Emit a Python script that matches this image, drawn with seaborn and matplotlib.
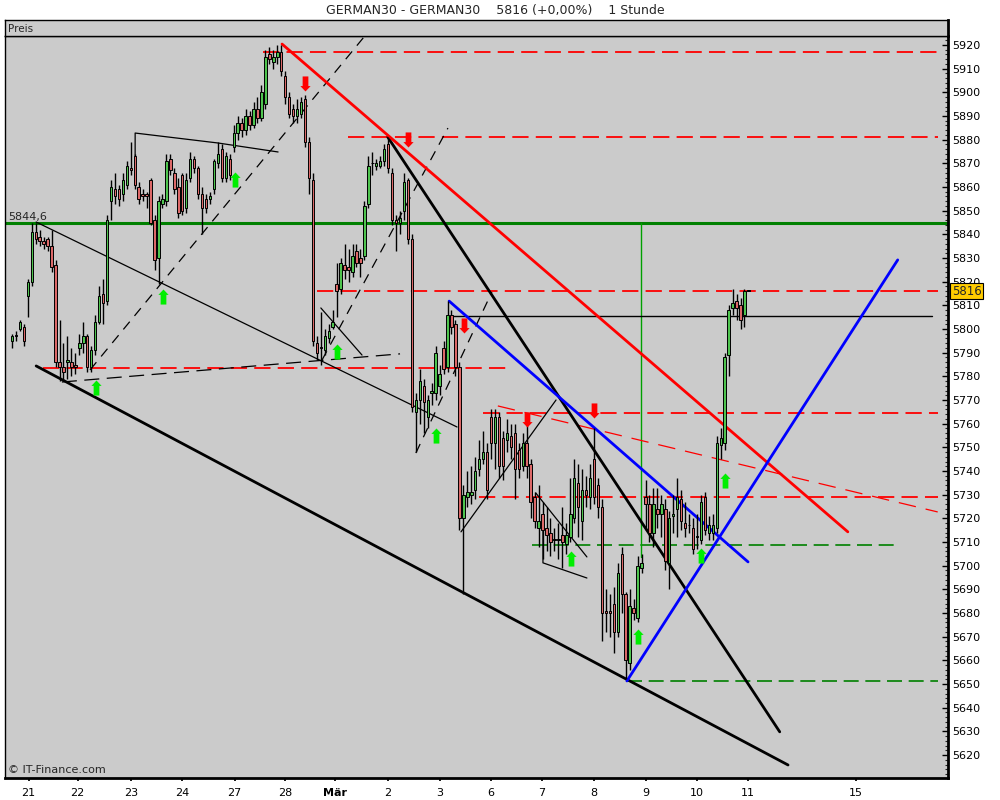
import matplotlib
matplotlib.use("Agg")
import matplotlib.pyplot as plt
from matplotlib.path import Path
import seaborn as sns

# GERMAN30, 1 Stunde (hourly candles)
opens = [5795,5797,5800,5801,5814,5820,5841,5839,5837,5838,
         5835,5827,5786,5784,5786,5786,5785,5792,5794,5797,
         5784,5791,5803,5815,5812,5854,5859,5859,5857,5861,
         5868,5873,5860,5857,5857,5863,5846,5830,5853,5854,
         5872,5866,5860,5865,5851,5864,5872,5868,5857,5855,
         5855,5859,5870,5876,5864,5872,5877,5883,5887,5884,
         5890,5886,5893,5889,5895,5916,5913,5915,5917,5907,
         5898,5893,5890,5891,5897,5879,5863,5794,5792,5791,
         5796,5801,5819,5817,5827,5826,5824,5833,5830,5831,
         5853,5870,5869,5869,5871,5878,5866,5846,5845,5850,
         5863,5838,5765,5770,5776,5763,5773,5773,5776,5792,
         5784,5806,5802,5784,5720,5729,5730,5732,5741,5745,
         5748,5763,5752,5763,5754,5753,5755,5756,5749,5742,
         5752,5743,5729,5716,5722,5716,5714,5711,5711,5713,
         5709,5712,5720,5735,5719,5732,5729,5745,5734,5725,
         5681,5681,5684,5672,5705,5688,5659,5682,5678,5699,
         5729,5726,5714,5724,5722,5724,5701,5721,5724,5728,
         5718,5717,5716,5712,5711,5729,5714,5714,5716,5751,
         5752,5789,5809,5812,5810,5806,5816]
highs = [5798,5799,5804,5802,5821,5845,5845,5842,5839,5839,
         5842,5829,5804,5794,5797,5792,5790,5798,5803,5798,
         5793,5806,5818,5821,5848,5863,5866,5861,5866,5871,
         5879,5874,5862,5859,5858,5864,5848,5856,5857,5874,
         5874,5868,5864,5866,5866,5875,5873,5869,5860,5857,
         5858,5872,5879,5878,5875,5874,5886,5890,5889,5893,
         5892,5896,5898,5903,5918,5919,5918,5920,5920,5909,
         5900,5895,5897,5898,5899,5881,5866,5797,5807,5800,
         5802,5808,5828,5830,5836,5834,5836,5836,5834,5854,
         5873,5875,5872,5873,5878,5881,5868,5848,5850,5866,
         5864,5840,5773,5783,5779,5772,5777,5793,5785,5795,
         5812,5808,5804,5786,5734,5740,5742,5746,5753,5757,
         5752,5766,5766,5765,5757,5762,5760,5760,5752,5756,
         5760,5745,5731,5734,5727,5725,5720,5716,5718,5725,
         5718,5737,5745,5743,5741,5738,5743,5758,5737,5728,
         5690,5688,5691,5701,5708,5689,5690,5686,5704,5705,
         5736,5730,5733,5733,5730,5728,5723,5730,5737,5732,
         5727,5722,5720,5722,5730,5731,5721,5722,5755,5758,
         5790,5810,5817,5815,5813,5817,5816]
lows = [5792,5795,5799,5793,5805,5818,5836,5835,5834,5833,
        5824,5784,5778,5778,5779,5780,5781,5789,5790,5782,
        5782,5789,5802,5802,5810,5846,5853,5852,5854,5859,
        5865,5859,5853,5854,5851,5844,5825,5819,5851,5852,
        5865,5857,5847,5848,5849,5862,5866,5855,5840,5849,
        5853,5857,5868,5862,5862,5863,5875,5880,5881,5882,
        5884,5885,5887,5888,5893,5912,5910,5912,5907,5895,
        5889,5887,5887,5889,5877,5857,5793,5787,5785,5789,
        5794,5800,5805,5815,5821,5820,5822,5826,5822,5829,
        5851,5865,5867,5868,5869,5866,5844,5833,5840,5846,
        5836,5765,5748,5760,5756,5758,5768,5770,5772,5781,
        5782,5798,5780,5715,5688,5725,5726,5728,5738,5743,
        5728,5745,5741,5737,5736,5748,5745,5728,5737,5740,
        5737,5720,5716,5708,5703,5706,5704,5706,5703,5699,
        5705,5710,5718,5712,5711,5725,5724,5726,5720,5668,
        5672,5670,5663,5670,5680,5652,5656,5677,5676,5697,
        5715,5710,5708,5716,5712,5698,5690,5714,5712,5715,
        5712,5714,5705,5707,5709,5713,5711,5711,5714,5745,
        5749,5780,5806,5804,5800,5801,5816]
closes = [5797,5797,5803,5795,5820,5841,5838,5837,5836,5835,
          5826,5786,5784,5782,5787,5784,5784,5794,5797,5784,
          5791,5803,5814,5811,5846,5860,5856,5855,5863,5869,
          5867,5861,5855,5856,5856,5845,5829,5854,5855,5871,
          5867,5859,5849,5850,5863,5872,5868,5857,5851,5851,
          5856,5871,5874,5864,5873,5865,5883,5887,5884,5890,
          5886,5893,5889,5900,5915,5914,5915,5917,5909,5898,
          5891,5890,5893,5896,5879,5864,5795,5790,5792,5797,
          5799,5803,5816,5828,5825,5825,5831,5828,5828,5852,
          5869,5870,5870,5871,5876,5868,5846,5845,5847,5862,
          5838,5767,5770,5778,5769,5770,5774,5790,5781,5783,
          5806,5801,5784,5720,5730,5731,5731,5740,5745,5748,
          5732,5752,5763,5742,5742,5756,5750,5741,5741,5752,
          5742,5727,5719,5719,5715,5713,5710,5711,5711,5710,
          5713,5722,5737,5725,5732,5730,5737,5729,5725,5680,
          5680,5680,5672,5697,5688,5660,5683,5680,5700,5701,
          5726,5714,5726,5722,5726,5702,5720,5722,5729,5719,
          5716,5717,5707,5712,5727,5715,5717,5717,5752,5754,
          5788,5808,5811,5809,5804,5816,5816]

day_labels = ["21", "22", "23", "24", "27", "28", "Mär", "2", "3", "6", "7",
              "8", "9", "10", "11", "15"]
day_pos = [4.2, 16.6, 30.0, 42.9, 56.2, 69.0, 81.5, 94.9, 108.1, 121.0,
           133.8, 147.0, 160.1, 173.0, 185.9, 213.1]

last_price = 5816
mark_5844 = 5844.6

# drawn lines, (candle index, price) points
red_trend = [(68.2, 5920.4), (211.1, 5714.3)]
red_trend_thin = [(122.7, 5767.5), (233.8, 5722.7)]
black_support = [(6.1, 5784.4), (196.0, 5615.8)]
black_down = [(94.9, 5881.1), (193.9, 5629.8)]
blue_down = [(110.4, 5811.8), (185.9, 5701.6)]
blue_up = [(155.3, 5651.3), (223.7, 5829.2)]
thin_down = [(6.1, 5845.2), (112.4, 5758.6)]
thin_top = [(31.1, 5872.7), (31.1, 5882.8), (52.0, 5878.6), (67.2, 5874.8)]
thin_flag1 = [(78.0, 5808.9), (88.4, 5789.0)]
thin_flag2 = [(132.3, 5730.7), (145.2, 5703.7)]
thin_flag2_base = [(134.1, 5718.0), (134.1, 5701.2), (145.2, 5694.8)]
thin_up = [(113.4, 5714.3), (137.4, 5770.0)]
line_5805 = [(110.6, 5805.5), (232.3, 5805.5)]
green_vert = [(158.8, 5844.6), (158.8, 5703.7)]
dash_a = [(19.7, 5782.7), (89.1, 5923.8)]
dash_b = [(78.3, 5786.9), (110.1, 5884.9)]
dash_c = [(102.0, 5747.6), (121.2, 5815.6)]
dash_flat = [(12.6, 5777.6), (98.0, 5789.5)]

red_levels = [5917, 5881, 5816.2, 5783.4, 5764.5, 5729.2]
red_level_from = [63.4, 84.8, 77.0, 7.8, 118.9, 117.9]
red_level_to = [233.8, 233.8, 233.8, 125.3, 233.8, 233.8]
green_levels = [5708.8, 5651.3]
green_level_from = [131.3, 155.3]
green_level_to = [224.2, 233.8]

# signal arrows (tip positions)
sell_x = [74.0, 100.0, 114.1, 130.1, 147.0]
sell_y = [5900.6, 5876.9, 5798.3, 5758.6, 5762.4]
buy_x = [21.2, 38.1, 56.3, 82.1, 107.1, 141.2, 158.1, 174.0, 180.1]
buy_y = [5778.5, 5816.9, 5866.3, 5793.7, 5758.2, 5706.2, 5673.3, 5707.5, 5739.2]

sns.set_theme(style="white", rc={"axes.facecolor": "#cbcbcb"})
plt.rcParams["font.family"] = ["DejaVu Sans"]

fig = plt.figure(figsize=(10, 8), dpi=100, facecolor="white")
ax = fig.add_axes([0.005, 0.0275, 0.943, 0.9275])
ax.set_facecolor("#cbcbcb")

def draw(points, color, lw, ls="-"):
    xs = [p[0] for p in points]
    ys = [p[1] for p in points]
    sns.lineplot(x=xs, y=ys, ax=ax, color=color, linewidth=lw, linestyle=ls,
                 estimator=None, sort=False, legend=False, zorder=4)

# horizontal levels
ax.axhline(mark_5844, color="#008000", lw=2.2, zorder=2)
for lv, a, b in zip(red_levels, red_level_from, red_level_to):
    draw([(a, lv), (b, lv)], "#ff0000", 1.3, (0, (9, 4)))
for lv, a, b in zip(green_levels, green_level_from, green_level_to):
    draw([(a, lv), (b, lv)], "#008000", 1.2, (0, (9, 4)))
draw(green_vert, "#00a000", 1.0)
draw(line_5805, "black", 1.0)

# candles
idx = list(range(len(closes)))
ax.vlines(idx, lows, highs, color="black", lw=1.0, zorder=5)
bottoms = [min(o, c) for o, c in zip(opens, closes)]
heights = [max(abs(c - o), 0.35) for o, c in zip(opens, closes)]
colors = ["#4fc44f" if c > o else ("#dc6868" if c < o else "black")
          for o, c in zip(opens, closes)]
ax.bar(idx, heights, bottom=bottoms, width=0.62, color=colors,
       edgecolor="black", linewidth=0.7, zorder=6)

# trend lines
draw(thin_down, "black", 0.9)
draw(thin_top, "black", 0.9)
draw(thin_flag1, "black", 0.9)
draw(thin_flag2, "black", 0.9)
draw(thin_flag2_base, "black", 0.9)
draw(thin_up, "black", 0.9)
draw(dash_a, "black", 0.9, (0, (8, 6)))
draw(dash_b, "black", 0.9, (0, (8, 6)))
draw(dash_c, "black", 0.9, (0, (8, 6)))
draw(dash_flat, "black", 0.9, (0, (12, 6)))
draw(red_trend_thin, "#ff0000", 0.9, (0, (14, 8)))
draw(black_support, "black", 2.0)
draw(black_down, "black", 2.0)
draw(red_trend, "#ff0000", 2.0)
draw(blue_down, "#0000ff", 2.0)
draw(blue_up, "#0000ff", 2.0)

# arrows
up_arrow = Path([(0, 0), (0.34, -0.36), (0.19, -0.36), (0.19, -1), (-0.19, -1),
                 (-0.19, -0.36), (-0.34, -0.36), (0, 0)], closed=True)
down_arrow = Path([(x, -y) for x, y in up_arrow.vertices], closed=True)
ax.scatter(buy_x, buy_y, marker=up_arrow, s=470, color="#00ee00", linewidths=0, zorder=8)
ax.scatter(sell_x, sell_y, marker=down_arrow, s=470, color="#ff0000", linewidths=0, zorder=8)

ax.set_xlim(-1.77, 236.4)
ax.set_ylim(5610.3, 5923.8)

# axes: price on the right
ax.yaxis.tick_right()
ax.set_yticks(range(5620, 5921, 10))
ax.set_yticks(range(5612, 5923, 2), minor=True)
ax.tick_params(axis="y", which="major", direction="in", length=4.5, width=1,
               labelsize=8, pad=3, colors="black", right=True, left=False)
ax.tick_params(axis="y", which="minor", direction="in", length=2.2, width=0.8,
               right=True, left=False)
ax.set_xticks(day_pos, day_labels)
ax.tick_params(axis="x", which="major", direction="out", length=2, labelsize=8, pad=5,
               bottom=True, colors="black")
for t in ax.get_xticklabels():
    if t.get_text() == "Mär":
        t.set_fontweight("bold")
ax.set_xlabel("")
ax.set_ylabel("")
for side in ["left", "top"]:
    ax.spines[side].set_linewidth(1.0)
for side in ["right", "bottom"]:
    ax.spines[side].set_linewidth(2.0)
for s in ax.spines.values():
    s.set_color("black")

ax.text(-1.0, mark_5844 + 0.8, "5844,6", fontsize=8, va="bottom", ha="left", zorder=9)
ax.text(0.003, 0.004, "© IT-Finance.com", transform=ax.transAxes, fontsize=8,
        va="bottom", ha="left", zorder=9)
ax.text(1.004, last_price, str(last_price), transform=ax.get_yaxis_transform(),
        fontsize=8.5, va="center", ha="left", clip_on=False, zorder=10,
        bbox=dict(boxstyle="square,pad=0.15", facecolor="#ffcc00", edgecolor="black", lw=0.8))

# header strip
hdr = fig.add_axes([0.005, 0.955, 0.943, 0.02])
hdr.set_facecolor("#cbcbcb")
hdr.set_xticks([])
hdr.set_yticks([])
for s in hdr.spines.values():
    s.set_color("black")
    s.set_linewidth(1.0)
hdr.spines["right"].set_linewidth(2.0)
hdr.text(0.003, 0.45, "Preis", fontsize=7.5, va="center", ha="left", transform=hdr.transAxes)

fig.text(0.495, 0.987, "GERMAN30 - GERMAN30    5816 (+0,00%)    1 Stunde",
         ha="center", va="center", fontsize=9)

fig.savefig("out.png", dpi=100, facecolor="white")
